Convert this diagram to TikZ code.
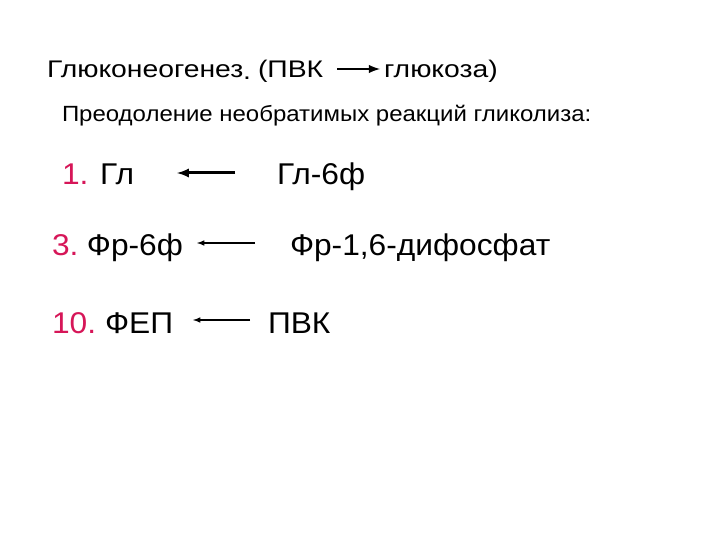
\documentclass[tikz,border=0pt]{standalone}
\usepackage{graphicx}
\usepackage{fontspec}
\setmainfont{Liberation Sans}
\definecolor{numred}{RGB}{214,22,88}
\newcommand{\hx}[1]{\scalebox{1.18}[1]{#1}}
\newcommand{\sx}[1]{\scalebox{1.09}[1]{#1}}
\newcommand{\rx}[1]{\scalebox{1.057}[1]{#1}}
\begin{document}
\begin{tikzpicture}[x=1pt,y=-1pt,
  txt/.style={anchor=base west,inner sep=0pt,outer sep=0pt},
  head/.style={txt,font=\fontsize{24}{28}\selectfont},
  sub/.style={txt,font=\fontsize{22}{26}\selectfont},
  row/.style={txt,font=\fontsize{30}{36}\selectfont},
  rarrow/.style={-latex,line width=#1}]
\useasboundingbox (0,0) rectangle (720,540);
\node[head] (h1) at (47,78) {\hx{Глюконеогенез}};
\node[head] (hdot) at (243,80) {\hx{.}};
\node[head] (h2) at (258,78) {\hx{(ПВК}};
\node[head] (h3) at (384,78) {\hx{глюкоза)}};
\coordinate (a0s) at (337,69);
\coordinate (a0e) at (380,69);
\draw[rarrow=2.8pt] (a0s) -- (a0e);
\node[sub] (s1) at (62,122) {\sx{Преодоление необратимых реакций гликолиза:}};
\node[row] (r1a) at (62,185) {\rx{\textcolor{numred}{1.} Гл}};
\node[row] (r1b) at (277,185) {\rx{Гл-6ф}};
\coordinate (a1s) at (235,173);
\coordinate (a1e) at (177,173);
\draw[rarrow=3pt] (a1s) -- (a1e);
\node[row] (r3a) at (52,255) {\rx{\textcolor{numred}{3.}\hspace{8pt}Фр-6ф}};
\node[row] (r3b) at (290,255) {\rx{Фр-1,6-дифосфат}};
\coordinate (a3s) at (255,243);
\coordinate (a3e) at (197,243);
\draw[rarrow=1.5pt] (a3s) -- (a3e);
\node[row] (r10a) at (52,333) {\rx{\textcolor{numred}{10.}\hspace{8.5pt}ФЕП}};
\node[row] (r10b) at (268,333) {\rx{ПВК}};
\coordinate (a10s) at (250,320);
\coordinate (a10e) at (193,320);
\draw[rarrow=1.5pt] (a10s) -- (a10e);
\end{tikzpicture}
\end{document}
